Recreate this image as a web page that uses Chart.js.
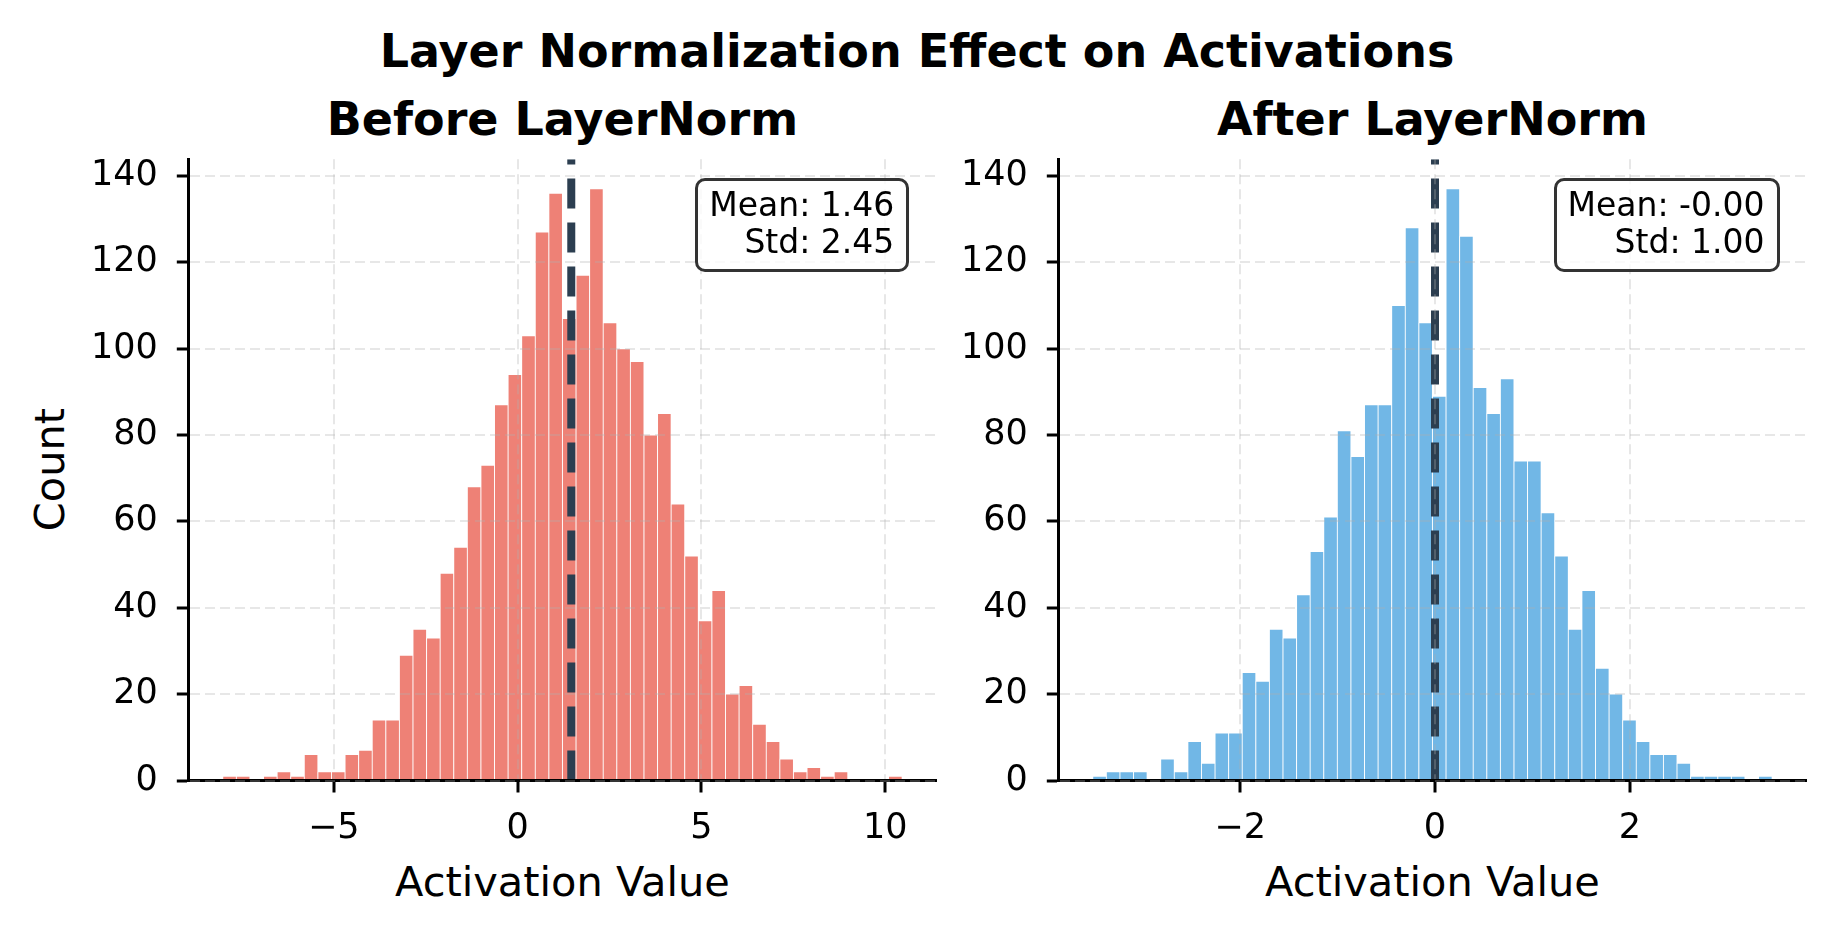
<!DOCTYPE html>
<html>
<head>
<meta charset="utf-8">
<script src="https://cdn.jsdelivr.net/npm/chart.js@4.4.1/dist/chart.umd.min.js"></script>
<style>
  html, body { margin: 0; padding: 0; background: #fff; }
  #page { position: relative; width: 1834px; height: 934px; overflow: hidden; font-family: 'DejaVu Sans', sans-serif; color: #000; }
  .txt { position: absolute; white-space: nowrap; line-height: 1; }
  .panel { position: absolute; top: 150px; width: 860px; height: 730px; }
  .stats { position: absolute; top: 178.3px; z-index: 5; border: 3px solid #333; border-radius: 10px;
           background: rgba(255,255,255,0.8); font-size: 33px; line-height: 37.2px; text-align: right;
           padding: 4.7px 12px 8.3px 11px; white-space: nowrap; }
</style>
</head>
<body>
<div id="page">
  <div class="txt" style="left:317px; width:1200px; top:27.8px; text-align:center; font-size:46px; font-weight:bold;">Layer Normalization Effect on Activations</div>
  <div class="txt" style="left:162.45px; width:800px; top:96.1px; text-align:center; font-size:46px; font-weight:bold;">Before LayerNorm</div>
  <div class="txt" style="left:1032.45px; width:800px; top:96.1px; text-align:center; font-size:46px; font-weight:bold;">After LayerNorm</div>
  <div class="txt" style="left:162.45px; width:800px; top:861px; text-align:center; font-size:41.5px;">Activation Value</div>
  <div class="txt" style="left:1032.45px; width:800px; top:861px; text-align:center; font-size:41.5px;">Activation Value</div>
  <div class="txt" style="left:-51.2px; width:200px; top:449px; height:41px; text-align:center; font-size:41.5px; transform:rotate(-90deg);">Count</div>

  <div class="panel" style="left:90px;"><canvas id="beforeChart"></canvas></div>
  <div class="panel" style="left:960px;"><canvas id="afterChart"></canvas></div>

  <div class="stats" id="beforeStats" style="right:924.7px;"></div>
  <div class="stats" id="afterStats" style="right:54.5px;"></div>
</div>

<script>
/* histogram counts, 50 bins each */
const beforeCounts = [1, 1, 0, 1, 2, 1, 6, 2, 2, 6, 7, 14, 14, 29, 35, 33, 48, 54, 68, 73,
  87, 94, 103, 127, 136, 107, 117, 137, 106, 100, 97, 80, 85, 64, 52, 37, 44, 20, 22, 13,
  9, 5, 2, 3, 1, 2, 0, 0, 0, 1];
const afterCounts = [1, 2, 2, 2, 0, 5, 2, 9, 4, 11, 11, 25, 23, 35, 33, 43, 53, 61, 81, 75,
  87, 87, 110, 128, 106, 89, 137, 126, 91, 85, 93, 74, 74, 62, 52, 35, 44, 26, 20, 14,
  9, 6, 6, 4, 1, 1, 1, 1, 0, 1];

/* bin range (min, max) of each histogram */
const beforeRange = [-8.02, 10.46];
const afterRange = [-3.513, 3.461];

/* mean lines */
const beforeMean = 1.46;
const afterMean = 0;

/* stats box text */
const beforeStatsText = ['Mean: 1.46', 'Std: 2.45'];
const afterStatsText = ['Mean: -0.00', 'Std: 1.00'];

/* tick values */
const beforeTicks = [-5, 0, 5, 10];
const afterTicks = [-2, 0, 2];
const countTicks = [0, 20, 40, 60, 80, 100, 120, 140];

Chart.defaults.font.family = "'DejaVu Sans', sans-serif";
Chart.defaults.color = '#000';

function binCenters(range, n) {
  const w = (range[1] - range[0]) / n;
  return Array.from({ length: n }, (_, i) => range[0] + w * (i + 0.5));
}

function fmt(v) {
  return v < 0 ? '\u2212' + Math.abs(v) : String(v);
}

const gridOpts = {
  offset: false,
  color: 'rgba(176,176,176,0.3)',
  lineWidth: 2,
  tickColor: '#000',
  tickWidth: 3,
  tickLength: 12,
  tickBorderDash: [],
  z: 1,
};
const borderOpts = { display: true, color: '#000', width: 3, dash: [10, 5], z: 1 };

function makeChart(id, counts, range, mean, xTicks, fill) {
  const centers = binCenters(range, counts.length);
  const span = range[1] - range[0];
  const yMax = Math.max(...counts) * 1.05;

  return new Chart(document.getElementById(id), {
    type: 'bar',
    data: {
      datasets: [
        {
          type: 'line',
          data: [{ x: mean, y: 0 }, { x: mean, y: yMax }],
          borderColor: '#2c3e50',
          borderWidth: 8,
          borderDash: [30, 14],
          pointRadius: 0,
          order: 1,
        },
        {
          data: centers.map((x, i) => ({ x: x, y: counts[i] })),
          backgroundColor: fill,
          borderColor: '#ffffff',
          borderWidth: 0.8,
          barPercentage: 1,
          categoryPercentage: 1,
          order: 2,
        },
      ],
    },
    options: {
      responsive: true,
      maintainAspectRatio: false,
      animation: false,
      events: [],
      layout: { padding: { top: 9.3, right: 13.9, left: 0, bottom: 0 }, autoPadding: false },
      plugins: { legend: { display: false }, tooltip: { enabled: false } },
      scales: {
        x: {
          type: 'linear',
          offset: false,
          min: range[0] - 0.05 * span,
          max: range[1] + 0.05 * span,
          afterBuildTicks: (s) => { s.ticks = xTicks.map((v) => ({ value: v })); },
          afterFit: (s) => { s.height = 99.5; s.paddingLeft = 0; s.paddingRight = 0; },
          grid: gridOpts,
          border: borderOpts,
          ticks: { font: { size: 35 }, padding: 15, maxRotation: 0, autoSkip: false, z: 1, callback: (v) => fmt(v) },
        },
        y: {
          min: 0,
          max: yMax,
          afterBuildTicks: (s) => { s.ticks = countTicks.map((v) => ({ value: v })); },
          afterFit: (s) => { s.width = 98.8; s.paddingTop = 0; s.paddingBottom = 0; },
          grid: gridOpts,
          border: borderOpts,
          ticks: { font: { size: 35 }, padding: 19, autoSkip: false, z: 1, callback: (v) => fmt(v) },
        },
      },
    },
  });
}

makeChart('beforeChart', beforeCounts, beforeRange, beforeMean, beforeTicks, 'rgba(231,76,60,0.7)');
makeChart('afterChart', afterCounts, afterRange, afterMean, afterTicks, 'rgba(52,152,219,0.7)');

document.getElementById('beforeStats').innerHTML = beforeStatsText.join('<br>');
document.getElementById('afterStats').innerHTML = afterStatsText.join('<br>');
</script>
</body>
</html>
